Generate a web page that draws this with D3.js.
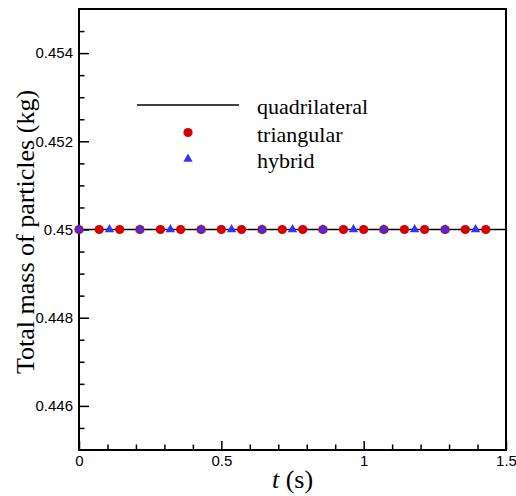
<!DOCTYPE html>
<html>
<head>
<meta charset="utf-8">
<script src="https://cdn.jsdelivr.net/npm/d3@7"></script>
<style>
  body { margin: 0; background: #fff; }
  svg { display: block; }
  .tick text { font-family: "Liberation Sans", Arial, sans-serif; font-size: 15px; fill: #000; }
  .serif { font-family: "Liberation Serif", "Times New Roman", serif; fill: #000; }
</style>
</head>
<body>
<svg id="chart" width="516" height="496"></svg>
<script>
// quadrilateral mesh: constant total mass (line)
var quadT = [0, 1.5];
var quadMass = [0.45, 0.45];
// triangular mesh samples
var triT = [0, 0.071, 0.143, 0.214, 0.286, 0.357, 0.429, 0.5, 0.571, 0.643, 0.714,
            0.786, 0.857, 0.929, 1.0, 1.071, 1.143, 1.214, 1.286, 1.357, 1.429];
var triMass = [0.45, 0.45, 0.45, 0.45, 0.45, 0.45, 0.45, 0.45, 0.45, 0.45, 0.45,
               0.45, 0.45, 0.45, 0.45, 0.45, 0.45, 0.45, 0.45, 0.45, 0.45];
// hybrid mesh samples
var hybT = [0, 0.107, 0.214, 0.321, 0.429, 0.536, 0.643, 0.75, 0.857, 0.964,
            1.071, 1.179, 1.286, 1.393];
var hybMass = [0.45, 0.45, 0.45, 0.45, 0.45, 0.45, 0.45, 0.45, 0.45, 0.45,
               0.45, 0.45, 0.45, 0.45];

var xMajor = [0, 0.5, 1, 1.5];
var xMinor = [0.1, 0.2, 0.3, 0.4, 0.6, 0.7, 0.8, 0.9, 1.1, 1.2, 1.3, 1.4];
var yMajor = [0.446, 0.448, 0.45, 0.452, 0.454];
var yMinor = [0.4455, 0.4465, 0.447, 0.4475, 0.4485, 0.449, 0.4495, 0.4505, 0.451,
              0.4515, 0.4525, 0.453, 0.4535, 0.4545];

var legendItems = ['quadrilateral', 'triangular', 'hybrid'];

var margin = {top: 9, left: 79, right: 10, bottom: 46};
var width = 516 - margin.left - margin.right,
    height = 496 - margin.top - margin.bottom;

var svg = d3.select('#chart');
var g = svg.append('g')
    .attr('transform', 'translate(' + margin.left + ',' + margin.top + ')');

var xScale = d3.scaleLinear().domain([0, 1.5]).range([0, width]);
var yScale = d3.scaleLinear().domain([0.445, 0.455]).range([height, 0]);

// minor ticks
g.append('g')
    .attr('transform', 'translate(0,' + height + ')')
    .call(d3.axisBottom(xScale).tickValues(xMinor).tickSize(-5.5).tickFormat(''));
g.append('g')
    .call(d3.axisLeft(yScale).tickValues(yMinor).tickSize(-5.5).tickFormat(''));

// major ticks
var xAxisG = g.append('g')
    .attr('transform', 'translate(0,' + height + ')')
    .call(d3.axisBottom(xScale).tickValues(xMajor).tickSize(-9).tickPadding(5)
        .tickFormat(function (d) { return d; }));
var yAxisG = g.append('g')
    .call(d3.axisLeft(yScale).tickValues(yMajor).tickSize(-10).tickPadding(6)
        .tickFormat(function (d) { return d3.format('.3f')(d).replace(/0+$/, ''); }));

g.selectAll('.domain').remove();
g.selectAll('.tick line').attr('stroke', '#000').attr('stroke-width', 1.5);

// frame
g.append('rect')
    .attr('x', 0).attr('y', 0)
    .attr('width', width).attr('height', height)
    .attr('fill', 'none')
    .attr('stroke', '#000')
    .attr('stroke-width', 2);

// data
var line = d3.line()
    .x(function (d, i) { return xScale(quadT[i]); })
    .y(function (d) { return yScale(d); });

g.append('path')
    .datum(quadMass)
    .attr('d', line)
    .attr('fill', 'none')
    .attr('stroke', '#000')
    .attr('stroke-width', 1.6);

g.selectAll('circle.tri')
    .data(triMass)
    .enter()
    .append('circle')
    .attr('class', 'tri')
    .attr('cx', function (d, i) { return xScale(triT[i]); })
    .attr('cy', function (d) { return yScale(d); })
    .attr('r', 4.6)
    .attr('fill', '#d60000');

var tri = d3.symbol().type(d3.symbolTriangle).size(38);
g.selectAll('path.hyb')
    .data(hybMass)
    .enter()
    .append('path')
    .attr('class', 'hyb')
    .attr('d', tri)
    .attr('transform', function (d, i) {
        return 'translate(' + xScale(hybT[i]) + ',' + yScale(d) + ')';
    })
    .attr('fill', '#3333ff');

// legend
var legend = svg.append('g').attr('transform', 'translate(137,105)');
var rowY = [0, 27.5, 54];
legend.append('line')
    .attr('x1', 0).attr('x2', 102)
    .attr('y1', rowY[0]).attr('y2', rowY[0])
    .attr('stroke', '#000').attr('stroke-width', 1.5);
legend.append('circle')
    .attr('cx', 51).attr('cy', rowY[1])
    .attr('r', 4.6).attr('fill', '#d60000');
legend.append('path')
    .attr('d', tri)
    .attr('transform', 'translate(51,' + rowY[2] + ')')
    .attr('fill', '#3333ff');
legend.selectAll('text')
    .data(legendItems)
    .enter()
    .append('text')
    .attr('class', 'serif')
    .attr('x', 120)
    .attr('y', function (d, i) { return rowY[i] + 9; })
    .style('font-size', '22px')
    .text(function (d) { return d; });

// axis titles
var xTitle = svg.append('text')
    .attr('class', 'serif')
    .attr('x', margin.left + width / 2)
    .attr('y', 488)
    .attr('text-anchor', 'middle')
    .style('font-size', '26px');
xTitle.append('tspan').style('font-style', 'italic').text('t');
xTitle.append('tspan').text(' (s)');

svg.append('text')
    .attr('class', 'serif')
    .attr('transform', 'translate(34,232) rotate(-90)')
    .attr('text-anchor', 'middle')
    .style('font-size', '26px')
    .text('Total mass of particles (kg)');
</script>
</body>
</html>
